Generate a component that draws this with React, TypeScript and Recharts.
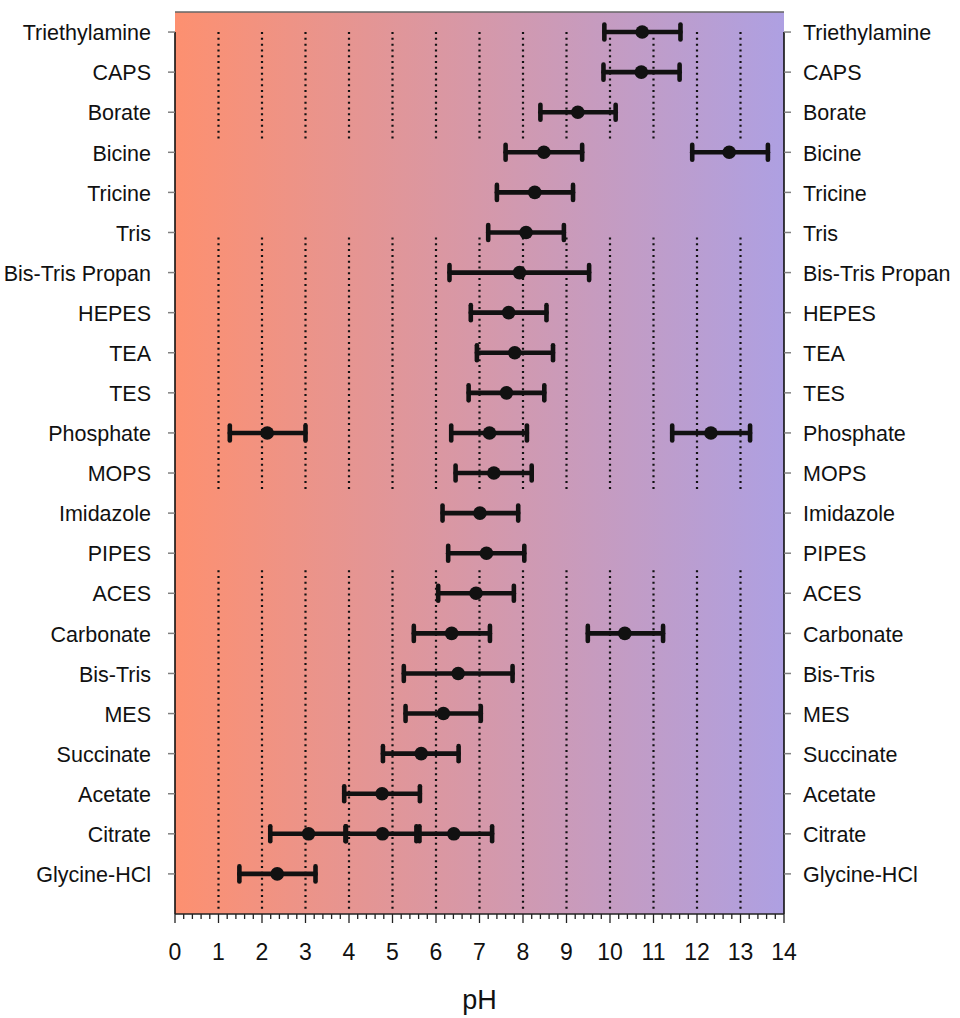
import React from 'react';
import {
  ScatterChart,
  Scatter,
  XAxis,
  YAxis,
  ErrorBar,
  ReferenceLine,
  CartesianGrid,
} from 'recharts';

// Buffers, top to bottom
const buffers = [
  'Triethylamine', 'CAPS', 'Borate', 'Bicine', 'Tricine', 'Tris', 'Bis-Tris Propan',
  'HEPES', 'TEA', 'TES', 'Phosphate', 'MOPS', 'Imidazole', 'PIPES', 'ACES',
  'Carbonate', 'Bis-Tris', 'MES', 'Succinate', 'Acetate', 'Citrate', 'Glycine-HCl',
];

// Each buffering range: buffer name, low end, pKa, high end
const rangeBuffer = [
  'Triethylamine', 'CAPS', 'Borate', 'Bicine', 'Bicine', 'Tricine', 'Tris', 'Bis-Tris Propan',
  'HEPES', 'TEA', 'TES', 'Phosphate', 'Phosphate', 'Phosphate', 'MOPS', 'Imidazole', 'PIPES',
  'ACES', 'Carbonate', 'Carbonate', 'Bis-Tris', 'MES', 'Succinate', 'Acetate',
  'Citrate', 'Citrate', 'Citrate', 'Glycine-HCl',
];
const rangeLow = [
  9.87, 9.85, 8.4, 7.6, 11.89, 7.4, 7.2, 6.31,
  6.8, 6.94, 6.75, 1.26, 6.35, 11.43, 6.45, 6.15, 6.28,
  6.05, 5.49, 9.49, 5.26, 5.3, 4.78, 3.89,
  2.19, 3.92, 5.55, 1.48,
];
const rangePKa = [
  10.74, 10.72, 9.26, 8.48, 12.74, 8.27, 8.07, 7.92,
  7.67, 7.81, 7.62, 2.12, 7.23, 12.32, 7.33, 7.01, 7.16,
  6.92, 6.36, 10.34, 6.51, 6.17, 5.66, 4.76,
  3.07, 4.77, 6.41, 2.35,
];
const rangeHigh = [
  11.62, 11.6, 10.13, 9.36, 13.63, 9.15, 8.94, 9.52,
  8.54, 8.69, 8.49, 3.0, 8.09, 13.22, 8.2, 7.89, 8.03,
  7.79, 7.24, 11.22, 7.76, 7.03, 6.52, 5.63,
  3.93, 5.62, 7.29, 3.23,
];

// pH axis ticks
const majorTicks = [0, 1, 2, 3, 4, 5, 6, 7, 8, 9, 10, 11, 12, 13, 14];
const minorTicks = Array.from({ length: 71 }, (_, i) => Math.round(i * 2) / 10);

// Dotted guide lines: pH positions and vertical spans (row units, 21 = top row)
const dottedX = [1, 2, 3, 4, 5, 6, 7, 8, 9, 10, 11, 12, 13];
const dottedSpanTop = [21, 15.875, 7.575];
const dottedSpanBottom = [18.33, 9.6, -0.875];

const N = buffers.length;
const rowValue = (name: string) => N - 1 - buffers.indexOf(name);
const rowTicks = buffers.map((_, i) => i);

const points = rangeBuffer.map((b, i) => ({
  name: b,
  x: rangePKa[i],
  y: rowValue(b),
  err: [rangePKa[i] - rangeLow[i], rangeHigh[i] - rangePKa[i]],
}));

const FONT = '"Liberation Sans", Arial, Helvetica, sans-serif';

const labelFor = (v: number) => buffers[N - 1 - Math.round(v)];

const LeftTick = (props: any) => {
  const { x, y, payload } = props;
  return (
    <g>
      <line x1={x - 7} x2={x} y1={y} y2={y} stroke="#808080" strokeWidth={1.5} />
      <text x={x - 24} y={y} dy={8.2} textAnchor="end" fontSize={21.5} fontFamily={FONT} fill="#111">
        {labelFor(payload.value)}
      </text>
    </g>
  );
};

const RightTick = (props: any) => {
  const { x, y, payload } = props;
  return (
    <g>
      <line x1={x} x2={x + 7} y1={y} y2={y} stroke="#808080" strokeWidth={1.5} />
      <text x={x + 19} y={y} dy={8.2} textAnchor="start" fontSize={21.5} fontFamily={FONT} fill="#111">
        {labelFor(payload.value)}
      </text>
    </g>
  );
};

const BottomTick = (props: any) => {
  const { x, y, payload } = props;
  const v = payload.value;
  const isMajor = Math.abs(v - Math.round(v)) < 1e-6;
  return (
    <g>
      <line x1={x} x2={x} y1={y} y2={y + (isMajor ? 9 : 5)} stroke="#222" strokeWidth={1.3} />
      {isMajor && (
        <text x={x} y={y + 46} textAnchor="middle" fontSize={23} fontFamily={FONT} fill="#111">
          {String(Math.round(v))}
        </text>
      )}
    </g>
  );
};

const EmptyTick = () => <g />;

const Dot = (props: any) => {
  const { cx, cy } = props;
  return <circle cx={cx} cy={cy} r={6.8} fill="#111" />;
};

export default function App() {
  return (
    <div style={{ position: 'absolute', left: 0, top: 0, width: 960, height: 1018, fontFamily: FONT }}>
      <svg width={0} height={0} style={{ position: 'absolute' }}>
        <defs>
          <linearGradient id="phGradient" x1="0" y1="0" x2="1" y2="0">
            <stop offset="0%" stopColor="#FD9070" />
            <stop offset="100%" stopColor="#AEA0E2" />
          </linearGradient>
        </defs>
      </svg>
      <ScatterChart width={960} height={1018} margin={{ top: 0, right: 0, bottom: 0, left: 0 }}>
        <CartesianGrid
          xAxisId="bottom"
          yAxisId="left"
          horizontal={false}
          vertical={false}
          fill="url(#phGradient)"
          fillOpacity={1}
          stroke="none"
        />
        <XAxis
          xAxisId="top"
          orientation="top"
          type="number"
          domain={[0, 14]}
          ticks={majorTicks}
          interval={0}
          height={12}
          tickSize={8}
          tick={EmptyTick}
          axisLine={{ stroke: '#666', strokeWidth: 1.5 }}
          tickLine={{ stroke: '#333', strokeWidth: 1.3 }}
          allowDataOverflow
        />
        <XAxis
          xAxisId="bottom"
          orientation="bottom"
          type="number"
          dataKey="x"
          domain={[0, 14]}
          ticks={minorTicks}
          interval={0}
          height={104}
          tickSize={0}
          tickMargin={0}
          tickLine={false}
          tick={BottomTick}
          axisLine={{ stroke: '#222', strokeWidth: 1.5 }}
          allowDataOverflow
          label={{ value: 'pH', position: 'insideBottom', offset: 9, fontSize: 27, fill: '#111', fontFamily: FONT }}
        />
        <YAxis
          yAxisId="left"
          orientation="left"
          type="number"
          dataKey="y"
          domain={[-1, 21.5]}
          ticks={rowTicks}
          interval={0}
          width={175}
          tickSize={0}
          tickMargin={0}
          tickLine={false}
          axisLine={false}
          tick={LeftTick}
          allowDataOverflow
        />
        <YAxis
          yAxisId="right"
          orientation="right"
          type="number"
          domain={[-1, 21.5]}
          ticks={rowTicks}
          interval={0}
          width={176}
          tickSize={0}
          tickMargin={0}
          tickLine={false}
          axisLine={false}
          tick={RightTick}
          allowDataOverflow
        />
        {dottedX.map((px) =>
          dottedSpanTop.map((top, j) => (
            <ReferenceLine
              key={`d-${px}-${j}`}
              xAxisId="bottom"
              yAxisId="left"
              ifOverflow="visible"
              segment={[
                { x: px, y: top },
                { x: px, y: dottedSpanBottom[j] },
              ]}
              stroke="#111"
              strokeWidth={2.2}
              strokeDasharray="2 3.8"
            />
          ))
        )}
        <ReferenceLine
          xAxisId="bottom"
          yAxisId="left"
          ifOverflow="visible"
          segment={[{ x: 0, y: 21 }, { x: 0, y: -1 }]}
          stroke="#111"
          strokeWidth={1.6}
        />
        <ReferenceLine
          xAxisId="bottom"
          yAxisId="left"
          ifOverflow="visible"
          segment={[{ x: 14, y: 21 }, { x: 14, y: -1 }]}
          stroke="#111"
          strokeWidth={1.6}
        />
        <Scatter
          data={points}
          xAxisId="bottom"
          yAxisId="left"
          dataKey="y"
          shape={Dot}
          isAnimationActive={false}
        >
          <ErrorBar
            dataKey="err"
            direction="x"
            width={7.5}
            stroke="#111"
            strokeWidth={4.6}
            strokeLinecap="round"
            isAnimationActive={false}
          />
        </Scatter>
      </ScatterChart>
    </div>
  );
}
